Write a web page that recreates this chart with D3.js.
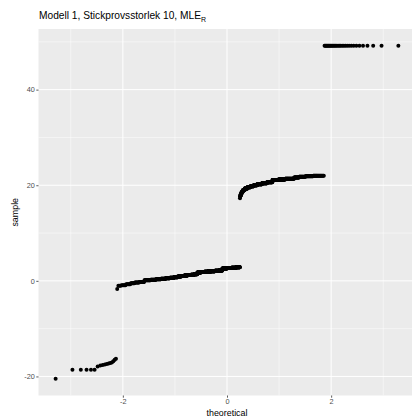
<!DOCTYPE html>
<meta charset="utf-8">
<html>
<head>
<style>
  body { margin: 0; background: #fff; }
  text { font-family: "Liberation Sans", Arial, sans-serif; }
</style>
</head>
<body>
<script src="https://d3js.org/d3.v7.min.js"></script>
<div id="my_dataviz"></div>
<script>
// sorted sample values, with how often each one repeats
var sampleValues = [
  -20.5, -18.6, -17.9, -17.7, -17.6, -17.5, -17.4, -17.3, -17.2, -17.1, -16.8, -16.5, -16.3,
  -1.7, -1.05, -0.9, -0.7, -0.5, -0.35, -0.25,
  0.15, 0.25, 0.35, 0.45, 0.55, 0.65, 0.75, 0.9, 1.0, 1.1, 1.2, 1.3, 1.4,
  1.75, 1.85, 1.9, 1.95, 2.0, 2.1, 2.15,
  2.6, 2.7, 2.75, 2.85,
  17.3, 17.7, 18.0, 18.4, 18.7, 19.0, 19.3, 19.6, 19.8, 20.0,
  20.2, 20.4, 20.6, 21.1, 21.2, 21.35, 21.6, 21.8, 21.9, 22.0,
  49.2
];
var sampleCounts = [
  1, 5, 1, 1, 1, 1, 1, 1, 1, 1, 1, 1, 1,
  1, 3, 5, 6, 6, 8, 10,
  15, 15, 16, 17, 17, 18, 18, 17, 17, 18, 20, 20, 20,
  24, 24, 23, 23, 30, 30, 26,
  35, 35, 35, 29,
  1, 3, 5, 6, 8, 12, 19, 22, 22, 23,
  30, 30, 29, 30, 30, 33, 16, 17, 17, 18,
  31
];

var xMajor = [-2, 0, 2], xMinor = [-3, -1, 1, 3];
var yMajor = [-20, 0, 20, 40], yMinor = [-10, 10, 30, 50];
var titleMain = "Modell 1, Stickprovsstorlek 10, MLE", titleSub = "R";
var xLabel = "theoretical", yLabel = "sample";

// inverse normal cdf (Acklam)
function qnorm(p) {
  var a = [-39.69683028665376, 220.9460984245205, -275.9285104469687, 138.3577518672690, -30.66479806614716, 2.506628277459239];
  var b = [-54.47609879822406, 161.5858368580409, -155.6989798598866, 66.80131188771972, -13.28068155288572];
  var c = [-0.007784894002430293, -0.3223964580411365, -2.400758277161838, -2.549732539343734, 4.374664141464968, 2.938163982698783];
  var d = [0.007784695709041462, 0.3224671290700398, 2.445134137142996, 3.754408661907416];
  var pl = 0.02425, q, r;
  if (p < pl) {
    q = Math.sqrt(-2 * Math.log(p));
    return (((((c[0]*q+c[1])*q+c[2])*q+c[3])*q+c[4])*q+c[5]) / ((((d[0]*q+d[1])*q+d[2])*q+d[3])*q+1);
  }
  if (p > 1 - pl) {
    q = Math.sqrt(-2 * Math.log(1 - p));
    return -(((((c[0]*q+c[1])*q+c[2])*q+c[3])*q+c[4])*q+c[5]) / ((((d[0]*q+d[1])*q+d[2])*q+d[3])*q+1);
  }
  q = p - 0.5; r = q * q;
  return (((((a[0]*r+a[1])*r+a[2])*r+a[3])*r+a[4])*r+a[5])*q / (((((b[0]*r+b[1])*r+b[2])*r+b[3])*r+b[4])*r+1);
}

// expand runs into the sorted sample, then pair with normal quantiles
var sample = [];
sampleValues.forEach(function(v, i) {
  for (var k = 0; k < sampleCounts[i]; k++) sample.push(v);
});
var n = sample.length;
var data = sample.map(function(v, i) {
  return {theoretical: qnorm((i + 0.5) / n), sample: v};
});

var W = 412, H = 418;
var panel = {left: 38.5, right: 415.5, top: 29, bottom: 395.5};

var svg = d3.select("#my_dataviz").append("svg")
  .attr("width", W).attr("height", H);

function expand(ext) {
  var pad = (ext[1] - ext[0]) * 0.05;
  return [ext[0] - pad, ext[1] + pad];
}

var x = d3.scaleLinear()
  .domain(expand(d3.extent(data, function(d) { return d.theoretical; })))
  .range([panel.left, panel.right]);
var y = d3.scaleLinear()
  .domain(expand(d3.extent(data, function(d) { return d.sample; })))
  .range([panel.bottom, panel.top]);

svg.append("rect")
  .attr("x", panel.left).attr("y", panel.top)
  .attr("width", panel.right - panel.left).attr("height", panel.bottom - panel.top)
  .attr("fill", "#EBEBEB");

var grid = svg.append("g");
grid.selectAll(".ymin").data(yMinor.filter(function(v) { return y(v) >= panel.top; }))
  .enter().append("line")
  .attr("x1", panel.left).attr("x2", panel.right)
  .attr("y1", function(d) { return y(d); }).attr("y2", function(d) { return y(d); })
  .attr("stroke", "#fff").attr("stroke-width", 0.5);
grid.selectAll(".xmin").data(xMinor)
  .enter().append("line")
  .attr("y1", panel.top).attr("y2", panel.bottom)
  .attr("x1", function(d) { return x(d); }).attr("x2", function(d) { return x(d); })
  .attr("stroke", "#fff").attr("stroke-width", 0.5);
grid.selectAll(".ymaj").data(yMajor)
  .enter().append("line")
  .attr("x1", panel.left).attr("x2", panel.right)
  .attr("y1", function(d) { return y(d); }).attr("y2", function(d) { return y(d); })
  .attr("stroke", "#fff").attr("stroke-width", 1);
grid.selectAll(".xmaj").data(xMajor)
  .enter().append("line")
  .attr("y1", panel.top).attr("y2", panel.bottom)
  .attr("x1", function(d) { return x(d); }).attr("x2", function(d) { return x(d); })
  .attr("stroke", "#fff").attr("stroke-width", 1);

// points
svg.append("g").selectAll("circle").data(data)
  .enter().append("circle")
  .attr("cx", function(d) { return x(d.theoretical); })
  .attr("cy", function(d) { return y(d.sample); })
  .attr("r", 2)
  .attr("fill", "#000");

// axes
var xAxis = svg.append("g")
  .attr("transform", "translate(0," + panel.bottom + ")")
  .call(d3.axisBottom(x).tickValues(xMajor).tickSize(2.2).tickPadding(1.5).tickFormat(d3.format("d")));
var yAxis = svg.append("g")
  .attr("transform", "translate(" + panel.left + ",0)")
  .call(d3.axisLeft(y).tickValues(yMajor).tickSize(2.2).tickPadding(1.5).tickFormat(d3.format("d")));
[xAxis, yAxis].forEach(function(g) {
  g.select(".domain").remove();
  g.selectAll(".tick line").attr("stroke", "#333333").attr("stroke-width", 0.8);
  g.selectAll(".tick text").attr("fill", "#4D4D4D")
    .style("font-family", "'Liberation Sans', Arial, sans-serif").style("font-size", "7.3px");
});
// ggplot uses a hyphen-minus style label
svg.selectAll(".tick text").text(function(d) { return d < 0 ? "-" + Math.abs(d) : d; });

svg.append("text")
  .attr("x", (panel.left + panel.right) / 2).attr("y", 415.5)
  .attr("text-anchor", "middle").attr("font-size", "8.9px").attr("fill", "#000")
  .text(xLabel);
svg.append("text")
  .attr("transform", "translate(17.5," + (panel.top + panel.bottom) / 2 + ") rotate(-90)")
  .attr("text-anchor", "middle").attr("font-size", "8.9px").attr("fill", "#000")
  .text(yLabel);

var title = svg.append("text")
  .attr("x", panel.left + 0.5).attr("y", 19.3)
  .attr("font-size", "10.2px").attr("fill", "#000");
title.append("tspan").text(titleMain);
title.append("tspan").attr("dy", 2.3).attr("font-size", "7px").text(titleSub);
</script>
</body>
</html>
